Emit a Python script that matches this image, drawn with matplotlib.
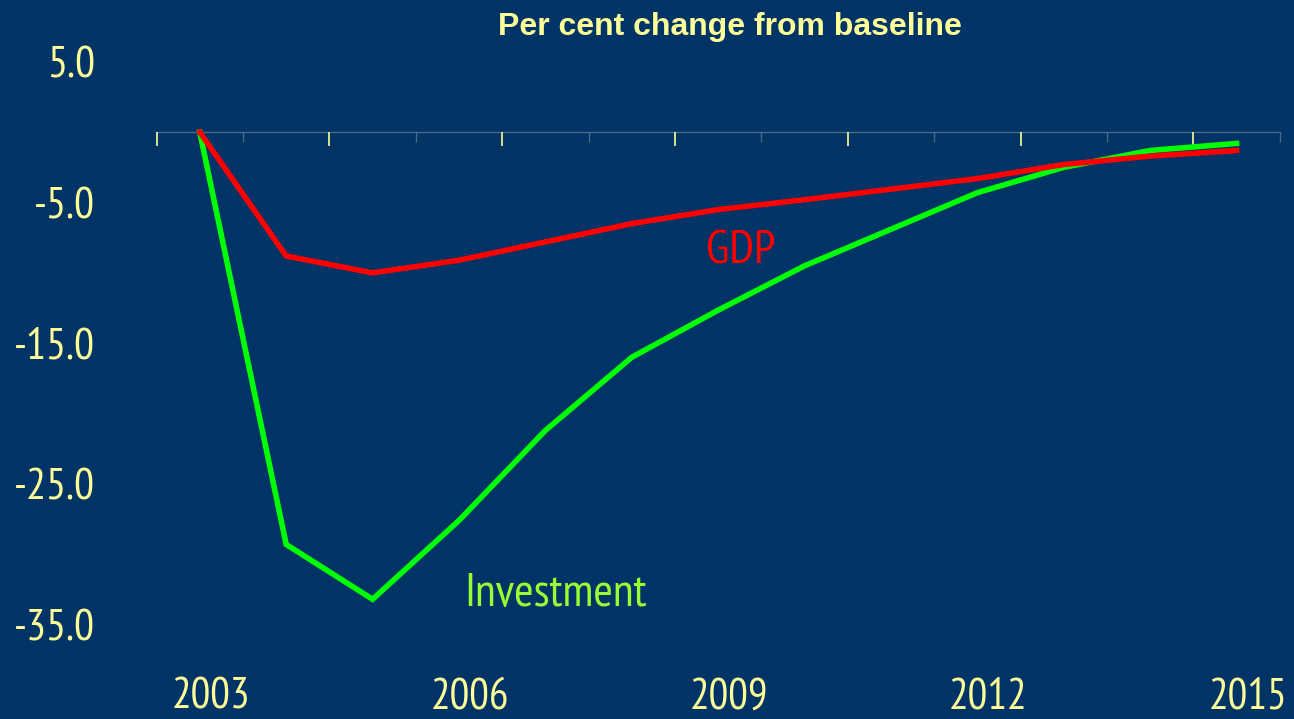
import matplotlib
matplotlib.use("Agg")
import matplotlib.pyplot as plt
from matplotlib import font_manager as fm
from matplotlib.ticker import FixedLocator, NullFormatter
import matplotlib.transforms as mtransforms

years = list(range(2003, 2016))
gdp = [0.0, -8.8, -10.0, -9.1, -7.8, -6.5, -5.5, -4.8, -4.05, -3.3, -2.3, -1.7, -1.3]
investment = [0.0, -29.3, -33.2, -27.6, -21.2, -16.0, -12.65, -9.5, -6.9, -4.3, -2.5, -1.3, -0.8]
ytick_values = [5.0, -5.0, -15.0, -25.0, -35.0]
xlabel_years = [2003, 2006, 2009, 2012, 2015]
title = "Per cent change from baseline"

BG = "#003366"
YEL = "#FFFF99"

available = {f.name for f in fm.fontManager.ttflist}
narrow_pref = ["Liberation Sans Narrow", "Arial Narrow", "PT Sans Narrow", "Archivo Narrow",
               "Roboto Condensed", "Pragati Narrow", "Fira Sans Condensed",
               "IBM Plex Sans Condensed", "Encode Sans Condensed", "Sofia Sans Condensed",
               "Open Sans Condensed"]
NARROW = next((n for n in narrow_pref if n in available), "DejaVu Sans")
NFAM = [NARROW, "DejaVu Sans"]

fig = plt.figure(figsize=(12.94, 7.19), dpi=100, facecolor=BG)
ax = fig.add_axes([0.121, 0.054, 0.868, 0.860])
ax.set_facecolor(BG)

ax.plot(years, gdp, color="#FF0000", lw=4.0, solid_joinstyle="miter", zorder=3)
ax.plot(years, investment, color="#00FF00", lw=4.0, solid_joinstyle="miter", zorder=2)

ax.set_xlim(2002.5, 2015.5)
ax.set_ylim(-38.95, 5.0)

for s in ["top", "right", "left"]:
    ax.spines[s].set_visible(False)
ax.spines["bottom"].set_position(("data", 0))
ax.spines["bottom"].set_color("#4a6a8a")
ax.spines["bottom"].set_linewidth(1.0)
ax.spines["bottom"].set_zorder(1)

minor = [y - 0.5 for y in years[1::2]]
ax.xaxis.set_major_locator(FixedLocator([y - 0.5 for y in years[::2]]))
ax.xaxis.set_minor_locator(FixedLocator(minor + [2015.5]))
ax.xaxis.set_major_formatter(NullFormatter())
ax.tick_params(axis="x", which="major", direction="out", length=10, width=1.2, color=YEL)
ax.tick_params(axis="x", which="minor", direction="out", length=7, width=1.0, color="#4a6a8a")

ax.set_yticks(ytick_values)
ax.set_yticklabels([f"{v:.1f}" for v in ytick_values])
ax.tick_params(axis="y", length=0, pad=44, labelsize=32, labelcolor=YEL)
for lbl in ax.get_yticklabels():
    lbl.set_fontfamily(NFAM)

sec = ax.secondary_xaxis("bottom")
sec.set_xticks(xlabel_years)
sec.set_xticklabels([str(y) for y in xlabel_years])
sec.tick_params(axis="x", length=0, pad=-2, labelsize=31.5, labelcolor=YEL)
sec.spines["bottom"].set_visible(False)
off = mtransforms.ScaledTranslation(11 / 100, 0, fig.dpi_scale_trans)
for lbl in sec.get_xticklabels():
    lbl.set_fontfamily(NFAM)
    lbl.set_transform(lbl.get_transform() + off)

ax.text(2009.26, -8.46, "GDP", color="#FF0000", fontsize=34, ha="center", va="center", family=NFAM)
ax.text(2007.12, -32.8, "Investment", color="#99FF33", fontsize=34, ha="center", va="center", family=NFAM)

fig.text(0.564, 0.963, title, color=YEL, fontsize=23, fontweight="bold", ha="center", va="center",
         family="Liberation Sans")

fig.savefig("out.png", dpi=100, facecolor=BG)
